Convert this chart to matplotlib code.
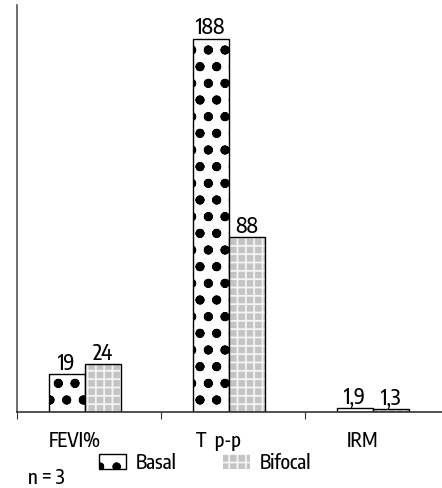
import matplotlib
matplotlib.use("Agg")
import matplotlib.pyplot as plt
import numpy as np

categories = ["FEVI%", "T  p-p", "IRM"]
basal = [19, 188, 1.9]
bifocal = [24, 88, 1.3]
basal_labels = ["19", "188", "1,9"]
bifocal_labels = ["24", "88", "1,3"]
series_names = ["Basal", "Bifocal"]

plt.rcParams['font.family'] = ['Encode Sans Condensed', 'DejaVu Sans']
plt.rcParams['font.weight'] = 500

fig = plt.figure(figsize=(4.42, 4.89), dpi=100)
ax = fig.add_axes([17 / 442, 76 / 489, 432 / 442, 407 / 489])

x = np.arange(len(categories)) - 0.03
w = 0.25

# basal: black dots on white
plt.rcParams['hatch.linewidth'] = 1.8
b1 = ax.bar(x - w / 2, basal, w, facecolor="white", edgecolor="black",
            hatch="o.", linewidth=1.0, label=series_names[0])

# bifocal: grey blocks with a white grid, outline drawn on top
plt.rcParams['hatch.linewidth'] = 1.3
b2 = ax.bar(x + w / 2, bifocal, w, facecolor="#c4c4c4", edgecolor="#f4f4f4",
            hatch="++", linewidth=0)
ax.bar(x + w / 2, bifocal, w, fill=False, edgecolor="black", linewidth=1.0)

for xi, v, t in zip(x - w / 2, basal, basal_labels):
    ax.text(xi, v + 0.3, t, ha="center", va="bottom", fontsize=15)
for xi, v, t in zip(x + w / 2, bifocal, bifocal_labels):
    ax.text(xi, v + 0.3, t, ha="center", va="bottom", fontsize=15)

ax.set_xlim(-0.5, 2.5)
ax.set_ylim(0, 205)

for s in ["top", "right"]:
    ax.spines[s].set_visible(False)
ax.spines["left"].set_color("#555555")
ax.spines["bottom"].set_color("#333333")
ax.spines["left"].set_linewidth(1.2)
ax.spines["bottom"].set_linewidth(1.2)

ax.set_yticks([])
ax.set_xticks([-0.5, 0.5, 1.5, 2.5])
ax.set_xticklabels([])
ax.tick_params(axis="x", which="major", direction="out", length=5, color="#333333")
ax.set_xticks(np.arange(len(categories)) - 0.1, minor=True)
ax.set_xticklabels(categories, minor=True, fontsize=14)
ax.tick_params(axis="x", which="minor", length=0, pad=13)

fig.legend(handles=[b1, b2], labels=series_names, loc="center", ncol=2,
           bbox_to_anchor=(205 / 442, 1 - 463 / 489), frameon=False,
           fontsize=14, handlelength=1.4, handleheight=0.8, columnspacing=2.4,
           handletextpad=0.5)
fig.text(28 / 442, 1 - 478 / 489, "n = 3", fontsize=14, va="center", ha="left")

fig.savefig("out.png", dpi=100)
